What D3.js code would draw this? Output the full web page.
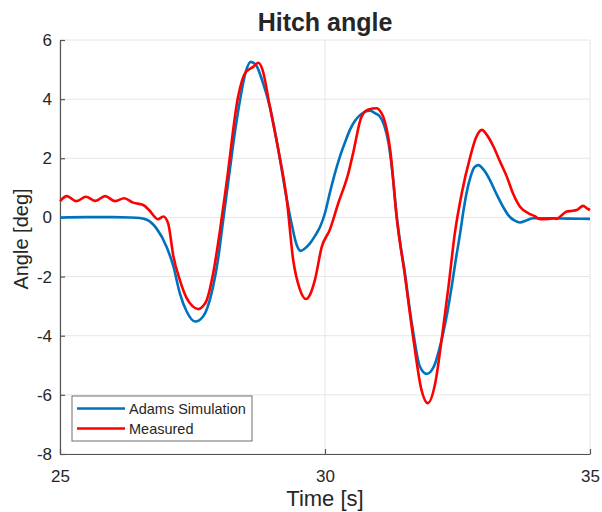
<!DOCTYPE html>
<html>
<head>
<meta charset="utf-8">
<script src="https://cdn.jsdelivr.net/npm/d3@7"></script>
<style>
  body { margin: 0; background: #fff; }
  text { font-family: "Liberation Sans", Arial, sans-serif; fill: #262626; }
</style>
</head>
<body>
<svg id="chart" width="602" height="512"></svg>
<script>
// values
var simTime = [25.0, 25.5, 26.0, 26.32, 26.5, 26.64, 26.82, 27.01, 27.14, 27.26, 27.39, 27.55, 27.7, 27.86, 27.99, 28.08, 28.18, 28.27, 28.4, 28.5, 28.6, 28.7, 28.82, 28.96, 29.12, 29.28, 29.38, 29.46, 29.54, 29.62, 29.72, 29.82, 29.91, 30.0, 30.09, 30.18, 30.28, 30.38, 30.47, 30.56, 30.66, 30.75, 30.85, 30.95, 31.04, 31.12, 31.2, 31.28, 31.35, 31.43, 31.51, 31.59, 31.67, 31.79, 31.92, 32.0, 32.08, 32.15, 32.23, 32.31, 32.39, 32.47, 32.55, 32.61, 32.67, 32.75, 32.82, 32.89, 33.0, 33.11, 33.22, 33.36, 33.47, 33.58, 33.68, 33.8, 33.93, 34.2, 34.6, 35.0];
var simAngle = [0, 0.01, 0.01, 0, -0.02, -0.08, -0.37, -0.99, -1.66, -2.56, -3.18, -3.52, -3.35, -2.56, -1.32, -0.08, 1.27, 2.5, 4.0, 4.9, 5.26, 5.15, 4.6, 3.74, 2.28, 0.6, -0.3, -0.9, -1.13, -1.05, -0.87, -0.6, -0.31, 0.15, 0.82, 1.45, 2.05, 2.55, 2.96, 3.25, 3.46, 3.57, 3.61, 3.52, 3.4, 3.1, 2.5, 1.4, 0.1, -1.0, -1.9, -3.0, -3.94, -5.04, -5.29, -5.2, -4.93, -4.5, -3.91, -3.2, -2.34, -1.4, -0.53, 0.2, 0.82, 1.4, 1.7, 1.77, 1.6, 1.27, 0.85, 0.36, 0.05, -0.11, -0.17, -0.1, -0.03, -0.03, -0.04, -0.05];

var measTime = [25.0, 25.13, 25.31, 25.49, 25.67, 25.85, 26.04, 26.21, 26.38, 26.57, 26.68, 26.85, 26.95, 27.04, 27.14, 27.26, 27.39, 27.5, 27.61, 27.69, 27.77, 27.89, 28.02, 28.15, 28.36, 28.49, 28.65, 28.74, 28.82, 28.96, 29.12, 29.28, 29.4, 29.52, 29.64, 29.72, 29.81, 29.94, 30.09, 30.25, 30.44, 30.53, 30.69, 30.82, 30.98, 31.04, 31.1, 31.23, 31.35, 31.51, 31.67, 31.82, 31.94, 32.08, 32.2, 32.33, 32.45, 32.58, 32.74, 32.85, 32.96, 33.05, 33.18, 33.3, 33.43, 33.55, 33.68, 33.84, 33.95, 34.06, 34.2, 34.31, 34.37, 34.45, 34.56, 34.65, 34.75, 34.87, 34.95, 35.0];
var measAngle = [0.55, 0.72, 0.55, 0.7, 0.56, 0.72, 0.55, 0.65, 0.5, 0.42, 0.25, -0.06, 0.03, -0.2, -1.32, -2.11, -2.73, -3.0, -3.1, -3.02, -2.79, -1.89, -0.42, 1.27, 4.08, 4.87, 5.1, 5.23, 5.0, 3.74, 2.28, 0.59, -1.44, -2.4, -2.76, -2.6, -2.11, -0.99, -0.42, 0.48, 1.49, 2.17, 3.41, 3.65, 3.69, 3.6, 3.4, 2.28, 0.03, -2.0, -4.14, -5.83, -6.28, -5.6, -4.14, -2.34, -0.53, 0.82, 2.05, 2.7, 2.96, 2.8, 2.39, 1.9, 1.38, 0.8, 0.36, 0.14, 0.05, -0.06, -0.05, -0.03, -0.05, 0.05, 0.2, 0.22, 0.25, 0.39, 0.3, 0.25];

var xTicks = [25, 30, 35];
var yTicks = [-8, -6, -4, -2, 0, 2, 4, 6];
var seriesNames = ["Adams Simulation", "Measured"];
var seriesColors = ["#0072BD", "#FF0000"];

var svg = d3.select("#chart");
var plotLeft = 60, plotRight = 590, plotTop = 40, plotBottom = 454;

var x = d3.scaleLinear().domain([25, 35]).range([plotLeft, plotRight]);
var y = d3.scaleLinear().domain([-8, 6]).range([plotBottom, plotTop]);

// grid
var grid = svg.append("g");
grid.selectAll(".gx").data(xTicks).enter().append("line")
    .attr("x1", function(d) { return x(d); }).attr("x2", function(d) { return x(d); })
    .attr("y1", plotTop).attr("y2", plotBottom)
    .attr("stroke", "#e6e6e6").attr("stroke-width", 1);
grid.selectAll(".gy").data(yTicks).enter().append("line")
    .attr("x1", plotLeft).attr("x2", plotRight)
    .attr("y1", function(d) { return y(d); }).attr("y2", function(d) { return y(d); })
    .attr("stroke", "#e6e6e6").attr("stroke-width", 1);

// axes (ticks pointing inward, like matlab), plain hyphen for minus
var fmt = function(d) { return String(d); };
var xAxis = svg.append("g")
    .attr("transform", "translate(0," + plotBottom + ")")
    .call(d3.axisBottom(x).tickValues(xTicks).tickFormat(fmt).tickSizeInner(-5).tickSizeOuter(0).tickPadding(16));
var yAxis = svg.append("g")
    .attr("transform", "translate(" + plotLeft + ",0)")
    .call(d3.axisLeft(y).tickValues(yTicks).tickFormat(fmt).tickSizeInner(-5).tickSizeOuter(0).tickPadding(8));
[xAxis, yAxis].forEach(function(a) {
  a.select(".domain").attr("stroke", "#555").attr("stroke-width", 1.2);
  a.selectAll(".tick line").attr("stroke", "#555").attr("stroke-width", 1.2);
  a.selectAll(".tick text").style("font-size", "17px").attr("fill", "#262626")
      .style("font-family", "'Liberation Sans', Arial, sans-serif");
});

// lines
var line = d3.line()
    .x(function(d) { return x(d[0]); })
    .y(function(d) { return y(d[1]); })
    .curve(d3.curveMonotoneX);

var simData = simTime.map(function(t, i) { return [t, simAngle[i]]; });
var measData = measTime.map(function(t, i) { return [t, measAngle[i]]; });

svg.append("path").datum(simData)
    .attr("d", line).attr("fill", "none")
    .attr("stroke", seriesColors[0]).attr("stroke-width", 2.6);
svg.append("path").datum(measData)
    .attr("d", line).attr("fill", "none")
    .attr("stroke", seriesColors[1]).attr("stroke-width", 2.6);

// title and axis labels
svg.append("text").attr("x", (plotLeft + plotRight) / 2).attr("y", 31)
    .attr("text-anchor", "middle").style("font-size", "25px").style("font-weight", "bold")
    .attr("fill", "#000").text("Hitch angle");
svg.append("text").attr("x", (plotLeft + plotRight) / 2).attr("y", 506)
    .attr("text-anchor", "middle").style("font-size", "22px").text("Time [s]");
svg.append("text")
    .attr("transform", "translate(28,239) rotate(-90)")
    .attr("text-anchor", "middle").style("font-size", "20px").text("Angle [deg]");

// legend
var lg = svg.append("g").attr("transform", "translate(72,396)");
lg.append("rect").attr("width", 180).attr("height", 45)
    .attr("fill", "#fff").attr("stroke", "#6e6e6e").attr("stroke-width", 1);
seriesNames.forEach(function(name, i) {
  var ly = 12.5 + i * 20;
  lg.append("line").attr("x1", 5).attr("x2", 53).attr("y1", ly).attr("y2", ly)
      .attr("stroke", seriesColors[i]).attr("stroke-width", 2.6);
  lg.append("text").attr("x", 57).attr("y", ly + 5.5)
      .style("font-size", "14.5px").text(name);
});
</script>
</body>
</html>
